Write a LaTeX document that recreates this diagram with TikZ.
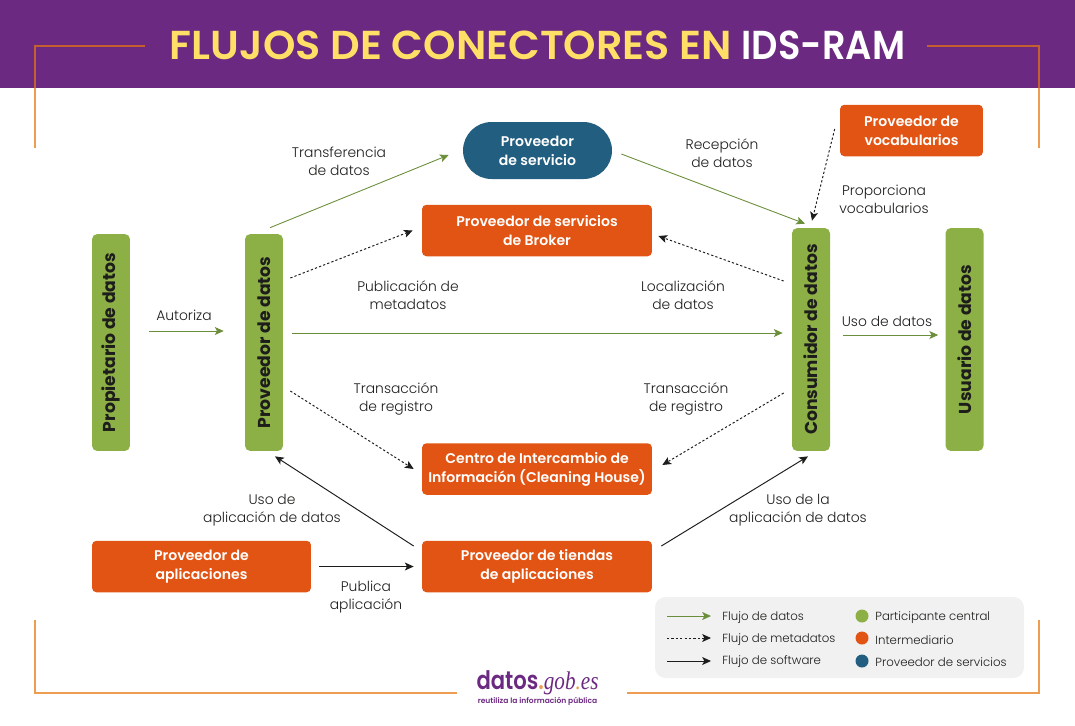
\documentclass[tikz,border=0pt]{standalone}
\usepackage{xcolor}
\usepackage{fontspec}
\setmainfont{Poppins Light}[BoldFont=Poppins SemiBold]
\newfontfamily\logofont{Liberation Serif}
\newfontfamily\negrita{Poppins Bold}
\usetikzlibrary{arrows.meta}
\definecolor{violeta}{HTML}{6C2981}
\definecolor{amarillo}{HTML}{FFDF66}
\definecolor{verde}{HTML}{8CAF46}
\definecolor{naranja}{HTML}{E25413}
\definecolor{azul}{HTML}{215E7F}
\definecolor{flecha}{HTML}{6B8E3A}
\definecolor{negro}{HTML}{1D1D1B}
\definecolor{marco}{HTML}{EE9C50}
\definecolor{marcoalto}{HTML}{C4602F}
\definecolor{leyenda}{HTML}{F1F1F1}
\begin{document}
\begin{tikzpicture}[x=0.02cm,y=-0.02cm,
% common options for the boxes:
central/.style = {draw=none, fill=verde, rounded corners=3pt, align=center, inner sep=0,
            text=negro, font=\fontsize{9.8}{11}\selectfont\negrita},
inter/.style = {draw=none, fill=naranja, rounded corners=2.5pt, align=center, inner sep=0,
            text=white, font=\fontsize{8}{10.8}\selectfont\bfseries,
            minimum height=1.03cm},
servicio/.style = {draw=none, fill=azul, rounded corners=0.57cm, align=center, inner sep=0,
            text=white, font=\fontsize{8}{10.8}\selectfont\bfseries,
            minimum width=2.98cm, minimum height=1.14cm},
% common options for the labels:
rotulo/.style = {align=center, inner sep=0, text=negro,
            font=\fontsize{7.9}{10.2}\selectfont},
clave/.style = {anchor=west, inner sep=0, text=negro,
            font=\fontsize{6.7}{8}\selectfont},
punto/.style = {circle, minimum size=0.26cm, inner sep=0},
% common options for the connectors:
datos/.style = {-{Stealth[length=5pt,width=4.5pt,inset=1.2pt]}, draw=flecha, line width=0.5pt},
meta/.style = {-{Stealth[length=5pt,width=4.5pt,inset=1.2pt]}, draw=negro, line width=0.55pt,
            dash pattern=on 1.3pt off 1.2pt},
soft/.style = {-{Stealth[length=5pt,width=4.5pt,inset=1.2pt]}, draw=negro, line width=0.55pt},
borde/.style = {draw=marco, line width=0.8pt}]
\useasboundingbox (0,0) rectangle (1075,725);
% header
\fill[violeta] (0,0) rectangle (1075,88);
\draw[borde] (35,148) -- (35,88);
\draw[borde,draw=marcoalto] (35,88) -- (35,46) -- (145,46);
\draw[borde,draw=marcoalto] (927,46) -- (1039,46) -- (1039,88);
\draw[borde] (1039,88) -- (1039,148);
\draw[borde] (35,620) -- (35,693) -- (457,693);
\draw[borde] (627,693) -- (1039,693) -- (1039,620);
\node[inner sep=0,text=amarillo,font=\fontsize{23}{26}\selectfont\bfseries] (T0) at (537.5,45)
    {\scalebox{1.022}[1]{FLUJOS DE CONECTORES EN} \textcolor{white}{\scalebox{0.91}[1]{IDS-RAM}}};
% participants
\node[central,minimum width=0.76cm,minimum height=4.34cm] (G0) at (111,342.5) {\rotatebox{90}{Propietario de datos}};
\node[central,minimum width=0.76cm,minimum height=4.34cm] (G1) at (264,342.5) {\rotatebox{90}{Proveedor de datos}};
\node[central,minimum width=0.76cm,minimum height=4.46cm] (G2) at (811,339.5) {\rotatebox{90}{Consumidor de datos}};
\node[central,minimum width=0.76cm,minimum height=4.46cm] (G3) at (964.5,339.5) {\rotatebox{90}{Usuario de datos}};
% intermediaries
\node[servicio] (S0) at (537.5,150.5) {Proveedor\\de servicio};
\node[inter,minimum width=2.86cm] (O0) at (911.5,130.5) {Proveedor de\\vocabularios};
\node[inter,minimum width=4.6cm] (O1) at (537,230.5) {Proveedor de servicios\\de Broker};
\node[inter,minimum width=4.6cm] (O2) at (537,469) {Centro de Intercambio de\\Información (Cleaning House)};
\node[inter,minimum width=4.38cm] (O3) at (201.5,566.5) {Proveedor de\\aplicaciones};
\node[inter,minimum width=4.6cm] (O4) at (537,566.5) {Proveedor de tiendas\\de aplicaciones};
% labels
\node[rotulo] (L0) at (184,315) {Autoriza};
\node[rotulo] (L1) at (339,161) {Transferencia\\de datos};
\node[rotulo] (L2) at (722,153) {Recepción\\de datos};
\node[rotulo] (L3) at (884,199) {Proporciona\\vocabularios};
\node[rotulo] (L4) at (408,295) {Publicación de\\metadatos};
\node[rotulo] (L5) at (683,295) {Localización\\de datos};
\node[rotulo] (L6) at (887,321) {Uso de datos};
\node[rotulo] (L7) at (396,399) {Transacción\\de registro};
\node[rotulo] (L8) at (686,399) {Transacción\\de registro};
\node[rotulo] (L9) at (272,510) {Uso de\\aplicación de datos};
\node[rotulo] (L10) at (798,510) {Uso de la\\aplicación de datos};
\node[rotulo] (L11) at (366,597) {Publica\\aplicación};
% connectors
\draw[datos] ([shift={(19,-11.5)}]G0.east) to ([shift={(-21,-11.5)}]G1.west);
\draw[datos] ([shift={(6,-6)}]G1.north) to ([shift={(-14,4.5)}]S0.west);
\draw[datos] ([shift={(9,3.5)}]S0.east) to ([shift={(-6,-4)}]G2.north);
\draw[datos] ([shift={(9,-9.5)}]G1.east) to ([shift={(-9,-6.5)}]G2.west);
\draw[datos] ([shift={(13,-4.5)}]G2.east) to ([shift={(-7,-4.5)}]G3.west);
\draw[meta] ([shift={(-5,-1.5)}]O0.west) to ([shift={(1,-7)}]G2.north);
\draw[meta] ([shift={(7,-64.5)}]G1.east) to ([shift={(-9,0)}]O1.west);
\draw[meta] ([shift={(-8,-58.5)}]G2.west) to ([shift={(6,5.5)}]O1.east);
\draw[meta] ([shift={(7,48.5)}]G1.east) to ([shift={(-8,0)}]O2.west);
\draw[meta] ([shift={(-8,53.5)}]G2.west) to ([shift={(10,-4)}]O2.east);
\draw[soft] ([shift={(-8,-20.5)}]O4.west) to ([shift={(11,5)}]G1.south);
\draw[soft] ([shift={(9,-20.5)}]O4.east) to ([shift={(-3,5)}]G2.south);
\draw[soft] ([shift={(8,0)}]O3.east) to ([shift={(-8,0)}]O4.west);
% legend
\fill[leyenda,rounded corners=6pt] (655,597) rectangle (1024,678);
\coordinate (C0) at (667,616);
\coordinate (C1) at (711,616);
\coordinate (C2) at (667,638);
\coordinate (C3) at (711,638);
\coordinate (C4) at (667,661);
\coordinate (C5) at (711,661);
\draw[datos] (C0) to (C1);
\draw[meta] (C2) to (C3);
\draw[soft] (C4) to (C5);
\node[clave] (K0) at (722,618) {Flujo de datos};
\node[clave] (K1) at (722,640) {Flujo de metadatos};
\node[clave] (K2) at (722,662) {Flujo de software};
\node[punto,fill=verde] (D0) at (862,616) {};
\node[punto,fill=naranja] (D1) at (862,638) {};
\node[punto,fill=azul] (D2) at (862,661) {};
\node[clave] (K3) at (875,618) {Participante central};
\node[clave] (K4) at (875,640) {Intermediario};
\node[clave] (K5) at (875,662) {Proveedor de servicios};
% logo
\node[inner sep=0,anchor=base,text=violeta,font=\fontsize{14.5}{16}\selectfont\bfseries] (N0) at (537.5,689)
    {\scalebox{0.83}[1]{datos\textcolor{marco}{.}{\logofont\mdseries\itshape gob\textcolor{marco}{.}es}}};
\node[inner sep=0,text=violeta,font=\fontsize{4.3}{6}\selectfont\bfseries] (N1) at (537.5,701) {reutiliza la información pública};
\end{tikzpicture}
\end{document}
